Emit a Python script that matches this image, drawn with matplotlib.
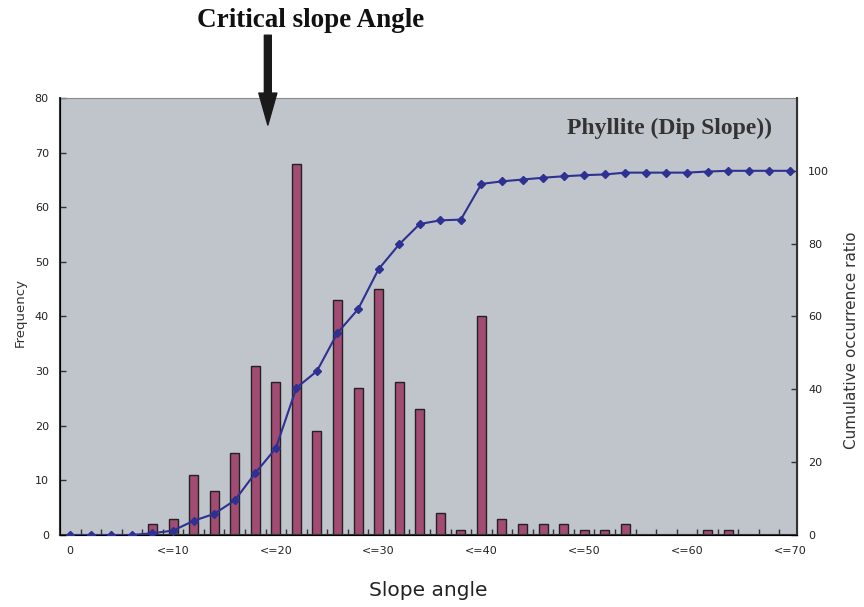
import numpy as np
import matplotlib.pyplot as plt

# slope angle classes (0, <=2, <=4, ... <=70)
angles = list(range(0, 72, 2))
freq = [0, 0, 0, 0, 2, 3, 11, 8, 15, 31, 28, 68, 19, 43, 27, 45, 28, 23, 4, 1,
        40, 3, 2, 2, 2, 1, 1, 2, 0, 0, 0, 1, 1, 0, 0, 0]
cum_ratio = [0, 0, 0, 0, 0.5, 1.2, 3.9, 5.8, 9.5, 17.0, 23.8, 40.4, 45.0, 55.5, 62.0,
             73.0, 79.8, 85.4, 86.4, 86.6, 96.4, 97.1, 97.6, 98.1, 98.5, 98.8, 99.0,
             99.5, 99.5, 99.5, 99.5, 99.8, 100, 100, 100, 100]
tick_angles = [0, 10, 20, 30, 40, 50, 60, 70]

x = np.arange(len(angles))

fig = plt.figure(figsize=(8.64, 6.07), dpi=100)
ax = fig.add_axes([0.0694, 0.1186, 0.853, 0.72])
ax.set_facecolor('#C0C4CB')

ax.bar(x, freq, width=0.44, color='#A24C73', edgecolor='#222222', linewidth=1, zorder=2)
ax.set_xlim(-0.5, 35.35)
ax.set_ylim(0, 80)
ax.set_yticks(range(0, 81, 10))

ticks = [angles.index(a) for a in tick_angles]
ax.set_xticks(ticks)
ax.set_xticklabels(['0' if a == 0 else '<=%d' % a for a in tick_angles])
ax.set_xticks(np.arange(0.5, len(angles) - 1, 1), minor=True)
ax.tick_params(axis='x', which='major', length=0, pad=8, labelsize=8, labelcolor='#222222')
ax.tick_params(axis='x', which='minor', direction='in', length=4, width=1, color='#333333')
ax.tick_params(axis='y', direction='in', length=4, width=1, pad=8, labelsize=8,
               labelcolor='#222222', color='#333333')

for s in ['left', 'bottom']:
    ax.spines[s].set_color('#333333')
    ax.spines[s].set_linewidth(1.5)
ax.spines['top'].set_color('#8a8a8a')
ax.spines['top'].set_linewidth(0.8)

ax2 = ax.twinx()
ax2.plot(x, cum_ratio, color='#2E3192', lw=1.5, marker='D', ms=4.5, zorder=3)
ax2.set_ylim(0, 120)
ax2.set_yticks(range(0, 101, 20))
ax2.tick_params(axis='y', direction='in', length=4, width=1, pad=8, labelsize=8,
                labelcolor='#222222', color='#333333')
ax2.spines['right'].set_color('#333333')
ax2.spines['right'].set_linewidth(1.5)
ax2.spines['top'].set_visible(False)

ax.set_ylabel('Frequency', fontsize=9.5, color='#333333', va='center')
ax.yaxis.set_label_coords(-0.054, 0.51)
ax2.set_ylabel('Cumulative occurrence ratio', fontsize=11, color='#333333', va='center')
ax2.yaxis.set_label_coords(1.074, 0.446)
ax.set_xlabel('Slope angle', fontsize=14.5, color='#222222', labelpad=18)

ax.text(0.966, 0.931, 'Phyllite (Dip Slope))', transform=ax.transAxes, ha='right', va='center',
        fontsize=17, fontweight='bold', family='Liberation Serif', color='#333333', zorder=5)

fig.text(0.36, 0.966, 'Critical slope Angle', ha='center', va='center', fontsize=19.5,
         fontweight='bold', family='Liberation Serif', color='#111111')
ax.annotate('', xy=(0.310, 0.794), xytext=(0.310, 0.942), xycoords='figure fraction',
            annotation_clip=False,
            arrowprops=dict(arrowstyle='simple,head_length=1.15,head_width=0.65,tail_width=0.25',
                            mutation_scale=20, color='#1a1a1a', shrinkA=0, shrinkB=0))

fig.savefig('out.png', dpi=100)
